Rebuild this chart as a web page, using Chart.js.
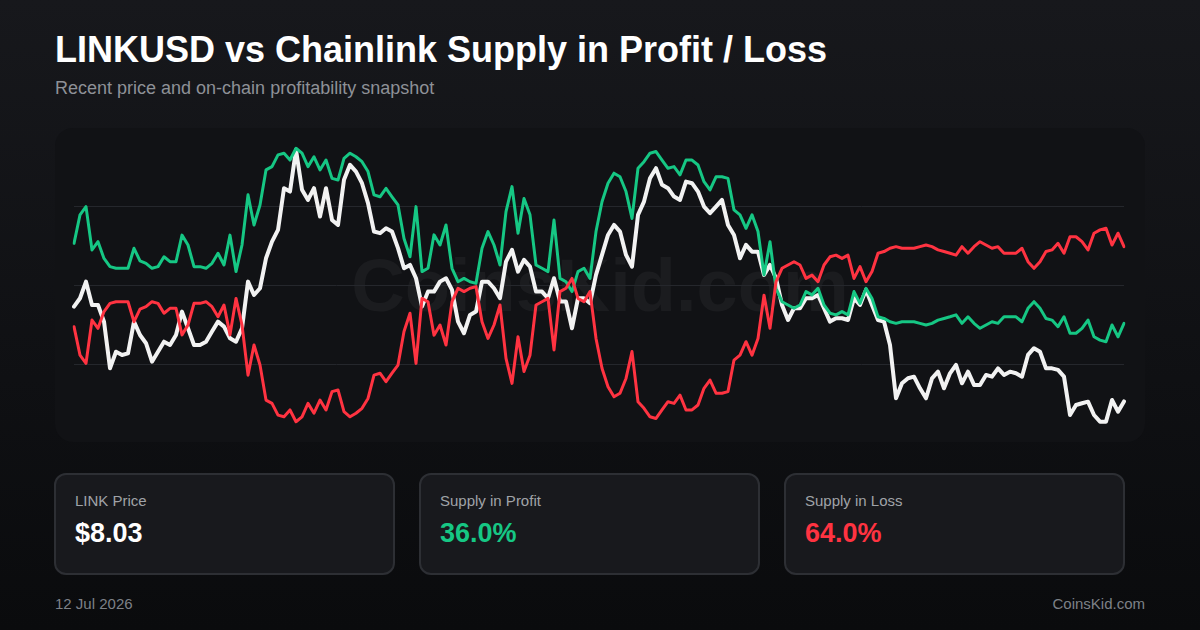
<!DOCTYPE html>
<html>
<head>
<meta charset="utf-8">
<script src="https://cdn.jsdelivr.net/npm/chart.js@4.4.1/dist/chart.umd.min.js"></script>
<style>
  html, body { margin: 0; padding: 0; }
  body {
    width: 1200px; height: 630px; overflow: hidden; position: relative;
    background: linear-gradient(180deg, #17181c 0%, #0f1013 60%, #0a0b0d 100%);
    font-family: "Liberation Sans", Arial, sans-serif;
  }
  .abs { position: absolute; white-space: nowrap; }
  #title { left: 55px; top: 31.5px; font-size: 36px; line-height: 36px; font-weight: bold; color: #ffffff; }
  #subtitle { left: 55px; top: 79px; font-size: 18px; line-height: 18px; color: #8e9197; }
  #panel { left: 55px; top: 128px; width: 1090px; height: 314px; background: #111215; border-radius: 18px; }
  #watermark { left: 0; width: 1200px; top: 249px; text-align: center; font-size: 74px; line-height: 74px; font-weight: bold; color: rgba(255,255,255,0.045); }
  #chartBox { left: 55px; top: 127px; width: 1090px; height: 316px; }
  .card { position: absolute; top: 473px; width: 337px; height: 98px; background: #18191d; border: 2px solid #2d2f34; border-radius: 12px; }
  .card .lbl { position: absolute; left: 19px; top: 17.8px; font-size: 15px; line-height: 15px; color: #a0a3a8; }
  .card .val { position: absolute; left: 19px; top: 45.4px; font-size: 27px; line-height: 27px; font-weight: bold; }
  #date { left: 55px; top: 596px; font-size: 15px; line-height: 15px; color: #7d8187; }
  #brand { right: 55px; top: 596px; font-size: 15px; line-height: 15px; color: #7d8187; }
</style>
</head>
<body>
<div id="title" class="abs">LINKUSD vs Chainlink Supply in Profit / Loss</div>
<div id="subtitle" class="abs">Recent price and on-chain profitability snapshot</div>
<div id="panel" class="abs"></div>
<div id="watermark" class="abs">CoinsKid.com</div>
<div id="chartBox" class="abs"><canvas id="supplyChart" width="1090" height="316"></canvas></div>

<div class="card" style="left:54px"><div class="lbl">LINK Price</div><div class="val" style="color:#ffffff">$8.03</div></div>
<div class="card" style="left:419px"><div class="lbl">Supply in Profit</div><div class="val" style="color:#16c784">36.0%</div></div>
<div class="card" style="left:784px"><div class="lbl">Supply in Loss</div><div class="val" style="color:#ff3341">64.0%</div></div>

<div id="date" class="abs">12 Jul 2026</div>
<div id="brand" class="abs">CoinsKid.com</div>

<script>
// weekly closes, oldest first, ending 12 Jul 2026
const endDate = "2026-07-12";

// LINK price in USD
const linkPrice = [
  15.62, 16.29, 17.62, 15.75, 15.75, 14.42, 10.68, 12.01, 11.75, 11.88,
  14.42, 13.35, 12.69, 11.21, 12.01, 12.81, 12.55, 13.35, 15.22, 13.89,
  12.55, 12.55, 12.81, 13.62, 14.42, 14.02, 13.09, 12.81, 13.89, 17.62,
  16.55, 17.09, 19.49, 20.82, 21.76, 25.10, 24.83, 28.17, 24.97, 24.16,
  25.10, 22.83, 25.10, 22.56, 22.16, 25.77, 26.97, 26.43, 25.50, 23.90,
  21.63, 21.50, 21.90, 21.63, 20.30, 18.69, 18.96, 17.89, 15.62,
  16.82, 16.82, 17.62, 17.89, 16.96, 14.42, 13.49, 14.95, 15.22, 17.62,
  17.62, 17.09, 16.29, 19.22, 20.16, 18.42, 19.36, 18.82, 16.82, 16.82,
  16.29, 17.89, 16.02, 16.02, 13.89, 16.29, 16.29, 15.89, 18.16,
  19.76, 21.36, 22.16, 21.63, 19.76, 18.82, 22.96, 24.03, 25.90, 26.70,
  25.37, 25.10, 24.43, 24.16, 25.63, 25.50, 24.83, 23.63, 23.10, 23.63,
  24.16, 22.16, 21.36, 19.49, 20.56, 20.02, 20.02, 18.16, 18.96,
  17.89, 15.75, 14.55, 15.49, 15.49, 16.29, 16.29, 16.55, 15.49, 14.42,
  14.69, 14.69, 14.55, 16.29, 15.75, 16.96, 15.75, 14.55, 14.42, 12.55,
  8.28, 9.48, 9.88, 10.01, 9.08, 8.28, 9.88, 10.41, 9.08,
  10.28, 10.95, 9.48, 10.41, 9.35, 9.35, 10.15, 10.01, 10.68, 10.15,
  10.41, 10.28, 10.01, 11.75, 12.29, 12.01, 10.68, 10.68, 10.55, 10.01,
  6.94, 7.74, 7.88, 8.01, 6.94, 6.41, 6.41, 8.14, 7.21, 8.03
];

// % of circulating supply in profit
const supplyProfit = [
  65.2, 75.6, 78.6, 62.8, 65.8, 59.7, 56.7, 56.1, 56.1, 56.1,
  63.4, 58.8, 57.9, 56.1, 56.7, 60.3, 58.5, 58.5, 68.2, 64.6,
  56.7, 56.7, 56.1, 57.9, 61.6, 57.3, 68.2, 54.9, 64.6, 82.9,
  71.9, 79.2, 92.0, 93.2, 97.5, 98.1, 95.6, 99.9, 98.1, 93.2,
  96.8, 92.0, 95.6, 88.9, 88.3, 96.2, 98.1, 96.8, 95.0, 91.4,
  82.9, 82.2, 85.3, 82.2, 79.2, 67.0, 60.3, 78.6, 54.9,
  56.1, 68.3, 64.6, 71.9, 56.1, 51.2, 52.4, 51.2, 50.6, 63.4,
  69.5, 64.6, 57.3, 76.8, 85.9, 68.9, 81.6, 75.6, 57.3, 56.1,
  54.9, 73.7, 52.4, 51.2, 47.6, 54.9, 56.1, 52.4, 69.5,
  80.4, 87.1, 90.8, 89.5, 84.1, 74.3, 92.6, 95.0, 98.1, 98.7,
  95.6, 92.6, 93.2, 90.2, 95.6, 95.6, 93.8, 87.7, 84.7, 89.5,
  89.5, 88.9, 77.4, 75.6, 70.7, 75.6, 69.5, 53.7, 65.8,
  48.8, 43.9, 42.7, 41.5, 42.7, 47.6, 46.4, 48.8, 42.7, 39.7,
  39.1, 40.3, 39.1, 47.6, 43.3, 48.8, 45.1, 38.4, 37.8, 36.6,
  36.0, 36.6, 36.6, 36.6, 36.0, 35.4, 36.0, 37.2, 37.8,
  38.4, 39.1, 36.0, 38.4, 36.0, 34.2, 35.4, 36.6, 36.0, 38.4,
  38.4, 38.4, 36.6, 41.5, 43.9, 41.5, 37.8, 37.2, 34.8, 38.4,
  32.4, 32.4, 34.2, 37.2, 31.1, 29.9, 29.3, 35.4, 31.1, 36.0
];

// % of circulating supply in loss
const supplyLoss = [
  34.8, 24.4, 21.4, 37.2, 34.2, 40.3, 43.3, 43.9, 43.9, 43.9,
  36.6, 41.2, 42.1, 43.9, 43.3, 39.7, 41.5, 41.5, 31.8, 35.4,
  43.3, 43.3, 43.9, 42.1, 38.4, 42.7, 31.8, 45.1, 35.4, 17.1,
  28.1, 20.8, 8.0, 6.8, 2.5, 1.9, 4.4, 0.1, 1.9, 6.8,
  3.2, 8.0, 4.4, 11.1, 11.7, 3.8, 1.9, 3.2, 5.0, 8.6,
  17.1, 17.8, 14.7, 17.8, 20.8, 33.0, 39.7, 21.4, 45.1,
  43.9, 31.7, 35.4, 28.1, 43.9, 48.8, 47.6, 48.8, 49.4, 36.6,
  30.5, 35.4, 42.7, 23.2, 14.1, 31.1, 18.4, 24.4, 42.7, 43.9,
  45.1, 26.3, 47.6, 48.8, 52.4, 45.1, 43.9, 47.6, 30.5,
  19.6, 12.9, 9.2, 10.5, 15.9, 25.7, 7.4, 5.0, 1.9, 1.3,
  4.4, 7.4, 6.8, 9.8, 4.4, 4.4, 6.2, 12.3, 15.3, 10.5,
  10.5, 11.1, 22.6, 24.4, 29.3, 24.4, 30.5, 46.3, 34.2,
  51.2, 56.1, 57.3, 58.5, 57.3, 52.4, 53.6, 51.2, 57.3, 60.3,
  60.9, 59.7, 60.9, 52.4, 56.7, 51.2, 54.9, 61.6, 62.2, 63.4,
  64.0, 63.4, 63.4, 63.4, 64.0, 64.6, 64.0, 62.8, 62.2,
  61.6, 60.9, 64.0, 61.6, 64.0, 65.8, 64.6, 63.4, 64.0, 61.6,
  61.6, 61.6, 63.4, 58.5, 56.1, 58.5, 62.2, 62.8, 65.2, 61.6,
  67.6, 67.6, 65.8, 62.8, 68.9, 70.1, 70.7, 64.6, 68.9, 64.0
];

// week labels counted back from the snapshot date
const weekLabels = [];
const end = new Date(endDate + "T00:00:00Z");
for (let i = linkPrice.length - 1; i >= 0; i--) {
  const d = new Date(end.getTime() - i * 7 * 86400000);
  weekLabels.push(d.toISOString().slice(0, 10));
}

const ctx = document.getElementById("supplyChart").getContext("2d");
new Chart(ctx, {
  type: "line",
  data: {
    labels: weekLabels,
    datasets: [
      {
        label: "Supply in Loss (%)",
        data: supplyLoss,
        yAxisID: "pct",
        borderColor: "#ff3341",
        borderWidth: 3,
        order: 1
      },
      {
        label: "Supply in Profit (%)",
        data: supplyProfit,
        yAxisID: "pct",
        borderColor: "#16c784",
        borderWidth: 3,
        order: 2
      },
      {
        label: "LINKUSD",
        data: linkPrice,
        yAxisID: "price",
        borderColor: "#f2f2f2",
        borderWidth: 4,
        order: 3
      }
    ]
  },
  options: {
    responsive: false,
    animation: false,
    devicePixelRatio: 1,
    layout: { padding: { left: 19, right: 21, top: 0, bottom: 0 } },
    elements: {
      point: { radius: 0, hoverRadius: 0 },
      line: { tension: 0, borderJoinStyle: "round", borderCapStyle: "round" }
    },
    plugins: { legend: { display: false }, tooltip: { enabled: false } },
    scales: {
      x: { display: false },
      pct: {
        position: "left",
        min: -7.66,
        max: 107.66,
        ticks: { display: false, count: 5 },
        border: { display: false },
        grid: {
          drawTicks: false,
          lineWidth: 1,
          color: c => (c.index === 0 || c.index === 4) ? "rgba(0,0,0,0)" : "#25272c"
        }
      },
      price: {
        position: "right",
        display: false,
        min: 4.7,
        max: 30.0
      }
    }
  }
});
</script>
</body>
</html>
